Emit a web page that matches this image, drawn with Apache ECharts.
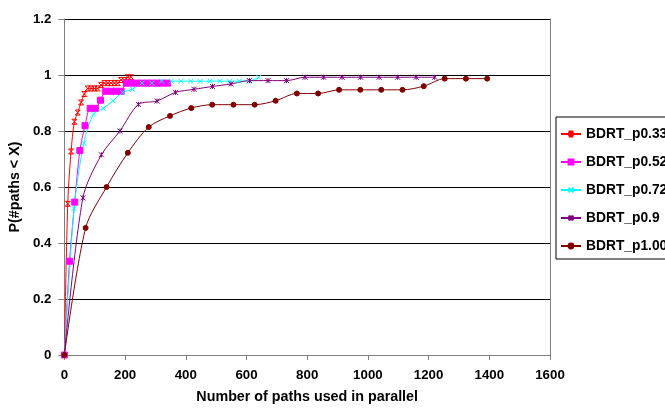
<!DOCTYPE html>
<html>
<head>
<meta charset="utf-8">
<script src="https://cdn.jsdelivr.net/npm/echarts@6/dist/echarts.min.js"></script>
<style>html,body{margin:0;padding:0;background:#fff}#c{width:665px;height:409px}</style>
</head>
<body>
<div id="c"></div>
<script>
const seriesNames = ['BDRT_p0.33', 'BDRT_p0.52', 'BDRT_p0.72', 'BDRT_p0.9', 'BDRT_p1.00'];
const xTicks = [0, 200, 400, 600, 800, 1000, 1200, 1400, 1600];
const yTicks = [0, 0.2, 0.4, 0.6, 0.8, 1, 1.2];

const xP033 = [0, 11, 22, 33, 44, 55, 66, 77, 88, 99, 110, 121, 132, 143, 154, 165, 176, 187, 198, 209, 220];
const yP033 = [0, 0.54, 0.727, 0.833, 0.866, 0.902, 0.932, 0.952, 0.952, 0.952, 0.952, 0.964, 0.971, 0.971, 0.971, 0.971, 0.971, 0.982, 0.982, 0.992, 0.992];

const xP052 = [0, 17, 34, 51, 68, 85, 102, 119, 136, 153, 170, 187, 204, 221, 238, 255, 272, 289, 306, 323, 340];
const yP052 = [0, 0.335, 0.546, 0.730, 0.819, 0.881, 0.881, 0.910, 0.942, 0.942, 0.942, 0.942, 0.971, 0.971, 0.971, 0.971, 0.971, 0.971, 0.971, 0.971, 0.971];

const xP072 = [0, 32, 64, 96, 128, 160, 192, 224, 256, 288, 320, 352, 384, 416, 448, 480, 512, 544, 576, 608, 640];
const yP072 = [0, 0.523, 0.757, 0.860, 0.881, 0.908, 0.938, 0.949, 0.971, 0.971, 0.978, 0.978, 0.978, 0.978, 0.978, 0.978, 0.978, 0.978, 0.978, 0.978, 0.992];

const xP09 = [0, 61, 122, 183, 244, 305, 366, 427, 488, 549, 610, 671, 732, 793, 854, 915, 976, 1037, 1098, 1159, 1220];
const yP09 = [0, 0.561, 0.715, 0.800, 0.895, 0.907, 0.938, 0.949, 0.959, 0.968, 0.980, 0.980, 0.980, 0.992, 0.992, 0.992, 0.992, 0.992, 0.992, 0.992, 0.992];

const xP100 = [0, 70, 139, 209, 278, 348, 418, 487, 557, 627, 696, 766, 836, 905, 975, 1044, 1114, 1184, 1253, 1323, 1393];
const yP100 = [0, 0.454, 0.600, 0.722, 0.814, 0.854, 0.882, 0.894, 0.894, 0.894, 0.908, 0.934, 0.934, 0.947, 0.947, 0.947, 0.947, 0.960, 0.987, 0.987, 0.987];

const FONT = "'Liberation Sans', Arial, sans-serif";
const pairs = (xs, ys) => xs.map((x, i) => [x, ys[i]]);

const symAsterisk = 'path://M0,0L10,10M10,0L0,10M5,0L5,10';
const symX = 'path://M0,0L10,10M10,0L0,10';
const symStarBar = 'path://M0,0L10,10M10,0L0,10M0,0L10,0M0,10L10,10';

const styles = [
  { color: '#FF0000', symbol: symStarBar, size: 5, fill: 'none' },
  { color: '#FF00FF', symbol: 'rect', size: 6, fill: '#FF00FF' },
  { color: '#00FFFF', symbol: symX, size: 5, fill: 'none' },
  { color: '#800080', symbol: symAsterisk, size: 5, fill: 'none' },
  { color: '#800000', symbol: 'circle', size: 5, fill: '#800000' }
];
const dataSets = [pairs(xP033, yP033), pairs(xP052, yP052), pairs(xP072, yP072), pairs(xP09, yP09), pairs(xP100, yP100)];

const series = seriesNames.map((name, i) => ({
  name: name,
  type: 'line',
  data: dataSets[i],
  smooth: 0.3,
  symbol: styles[i].symbol,
  symbolSize: styles[i].size,
  showAllSymbol: true,
  lineStyle: { color: styles[i].color, width: 1 },
  itemStyle: { color: styles[i].fill === 'none' ? 'rgba(0,0,0,0)' : styles[i].fill, borderColor: styles[i].color, borderWidth: 1 },
  emphasis: { disabled: true },
  animation: false
}));

const chart = echarts.init(document.getElementById('c'), null, { renderer: 'canvas' });
chart.setOption({
  animation: false,
  backgroundColor: '#ffffff',
  grid: { left: 60, right: 115, top: 19, bottom: 52, containLabel: false },
  legend: {
    orient: 'vertical',
    left: 556,
    top: 117,
    padding: [10, 60, 6, 4],
    itemWidth: 20,
    itemHeight: 6,
    itemGap: 14,
    borderColor: '#000',
    borderWidth: 1,
    backgroundColor: '#fff',
    textStyle: { fontFamily: FONT, fontWeight: 'bold', fontSize: 13.8, color: '#000' },
    data: seriesNames
  },
  xAxis: {
    type: 'value',
    min: xTicks[0],
    max: xTicks[xTicks.length - 1],
    interval: 200,
    name: 'Number of paths used in parallel',
    nameLocation: 'middle',
    nameGap: 35,
    nameTextStyle: { fontFamily: FONT, fontWeight: 'bold', fontSize: 14.3, color: '#000' },
    axisLine: { show: true, lineStyle: { color: '#808080', width: 1 } },
    axisTick: { show: true, length: 5, lineStyle: { color: '#808080' } },
    axisLabel: { margin: 14, fontFamily: FONT, fontWeight: 'bold', fontSize: 13.3, color: '#000', formatter: v => String(v) },
    splitLine: { show: false }
  },
  yAxis: [{
    type: 'value',
    min: yTicks[0],
    max: yTicks[yTicks.length - 1],
    interval: 0.2,
    name: 'P(#paths < X)',
    nameLocation: 'middle',
    nameRotate: 90,
    nameGap: 29,
    nameTextStyle: { fontFamily: FONT, fontWeight: 'bold', fontSize: 14.3, color: '#000' },
    axisLine: { show: true, lineStyle: { color: '#808080', width: 1 } },
    axisTick: { show: true, length: 6, lineStyle: { color: '#808080' } },
    axisLabel: { margin: 13, fontFamily: FONT, fontWeight: 'bold', fontSize: 13.3, color: '#000', formatter: v => String(Math.round(v * 10) / 10) },
    splitLine: { show: true, lineStyle: { color: '#000', width: 1 } }
  }, {
    type: 'value',
    position: 'right',
    min: 0, max: 1.2,
    axisLine: { show: true, lineStyle: { color: '#808080', width: 1 } },
    axisTick: { show: false },
    axisLabel: { show: false },
    splitLine: { show: false }
  }],
  series: series
});
</script>
</body>
</html>
